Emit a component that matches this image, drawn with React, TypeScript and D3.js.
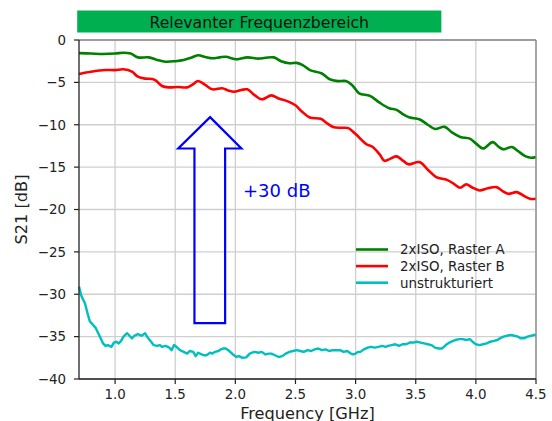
import React from "react";
import * as d3 from "d3";

// S21 measurements, [frequency GHz, dB]
const rasterA: [number, number][] = [
  [0.7, -1.55], [0.8, -1.6], [0.9, -1.65], [1.0, -1.6], [1.07, -1.5], [1.13, -1.6],
  [1.19, -2.05], [1.28, -2.05], [1.35, -2.35], [1.42, -2.56], [1.5, -2.5], [1.57, -2.36],
  [1.63, -2.1], [1.69, -1.8], [1.75, -2.0], [1.81, -2.16], [1.87, -2.05], [1.92, -1.97],
  [2.01, -2.28], [2.1, -2.05], [2.19, -2.2], [2.25, -2.1], [2.32, -2.05], [2.38, -2.5],
  [2.45, -2.75], [2.51, -2.7], [2.56, -2.96], [2.62, -3.55], [2.72, -3.95], [2.78, -4.6],
  [2.85, -4.85], [2.92, -4.85], [2.97, -5.3], [3.03, -6.3], [3.12, -6.6], [3.2, -7.4],
  [3.28, -8.05], [3.34, -8.25], [3.4, -8.8], [3.45, -9.15], [3.53, -9.35], [3.6, -10.0],
  [3.66, -10.5], [3.74, -10.25], [3.8, -10.9], [3.87, -11.44], [3.95, -11.64], [4.0, -12.2],
  [4.06, -12.8], [4.14, -12.05], [4.19, -12.6], [4.23, -12.9], [4.3, -12.62], [4.35, -13.1],
  [4.41, -13.7], [4.46, -13.9], [4.5, -13.8],
];

const rasterB: [number, number][] = [
  [0.7, -4.0], [0.8, -3.74], [0.92, -3.54], [1.0, -3.55], [1.07, -3.46], [1.14, -3.74],
  [1.19, -4.33], [1.25, -4.56], [1.31, -4.6], [1.34, -4.8], [1.39, -5.43], [1.45, -5.59],
  [1.52, -5.55], [1.6, -5.59], [1.65, -5.2], [1.69, -4.84], [1.75, -5.3], [1.81, -5.82],
  [1.89, -5.7], [1.94, -5.95], [1.99, -6.1], [2.05, -5.9], [2.1, -5.82], [2.16, -6.5],
  [2.22, -7.0], [2.3, -6.53], [2.36, -6.9], [2.42, -7.15], [2.5, -7.7], [2.55, -8.4],
  [2.62, -9.15], [2.71, -9.3], [2.77, -9.9], [2.82, -10.3], [2.89, -10.35], [2.94, -10.4],
  [3.0, -11.1], [3.09, -12.3], [3.14, -12.6], [3.2, -13.5], [3.24, -14.25], [3.29, -14.0],
  [3.34, -13.73], [3.4, -14.3], [3.44, -14.67], [3.53, -14.4], [3.6, -15.3], [3.67, -16.17],
  [3.76, -16.5], [3.82, -17.0], [3.87, -17.44], [3.92, -17.04], [3.97, -17.4], [4.03, -17.75],
  [4.1, -17.5], [4.17, -17.36], [4.22, -17.8], [4.27, -18.15], [4.34, -17.95], [4.4, -18.4],
  [4.45, -18.74], [4.5, -18.74],
];

const unstrukturiert: [number, number][] = [
  [0.7, -29.1], [0.72, -30.2], [0.75, -31.1], [0.77, -32.2], [0.79, -33.2], [0.81, -33.5],
  [0.84, -34.0], [0.86, -34.6], [0.88, -35.2], [0.9, -35.8], [0.92, -36.1], [0.94, -36.0],
  [0.97, -36.2], [0.99, -35.7], [1.01, -35.6], [1.03, -35.8], [1.05, -35.5], [1.07, -35.0],
  [1.1, -34.6], [1.12, -34.9], [1.14, -35.2], [1.16, -34.9], [1.19, -34.7], [1.22, -34.9],
  [1.25, -34.6], [1.27, -35.1], [1.3, -35.6], [1.32, -36.0], [1.35, -36.1], [1.37, -36.0],
  [1.39, -36.2], [1.42, -36.1], [1.45, -36.3], [1.47, -36.6], [1.49, -36.0], [1.51, -36.2],
  [1.54, -36.6], [1.57, -36.8], [1.6, -37.0], [1.62, -36.7], [1.65, -36.8], [1.67, -37.3],
  [1.69, -36.9], [1.72, -37.1], [1.74, -37.2], [1.76, -37.2], [1.79, -36.9], [1.81, -37.0],
  [1.83, -36.8], [1.86, -36.7], [1.88, -36.5], [1.9, -36.4], [1.92, -36.4], [1.95, -36.7],
  [1.98, -37.1], [2.01, -37.4], [2.03, -37.3], [2.06, -37.5], [2.09, -37.45], [2.12, -37.0],
  [2.14, -36.9], [2.16, -36.8], [2.19, -36.9], [2.22, -36.8], [2.25, -37.1], [2.28, -37.0],
  [2.3, -37.0], [2.33, -37.2], [2.36, -37.4], [2.39, -37.3], [2.42, -37.0], [2.45, -36.8],
  [2.48, -36.7], [2.51, -36.6], [2.54, -36.7], [2.57, -36.8], [2.6, -36.6], [2.63, -36.7],
  [2.66, -36.5], [2.69, -36.4], [2.72, -36.6], [2.75, -36.5], [2.78, -36.7], [2.81, -36.6],
  [2.84, -36.6], [2.87, -36.6], [2.9, -36.8], [2.93, -36.7], [2.96, -37.0], [2.98, -37.1],
  [3.0, -37.0], [3.02, -36.8], [3.04, -36.8], [3.07, -36.5], [3.1, -36.3], [3.13, -36.2],
  [3.16, -36.3], [3.19, -36.2], [3.22, -36.1], [3.25, -36.2], [3.27, -36.1], [3.3, -36.0],
  [3.33, -35.9], [3.36, -36.1], [3.39, -35.9], [3.42, -35.9], [3.45, -35.7], [3.48, -35.7],
  [3.51, -35.6], [3.54, -35.7], [3.57, -35.8], [3.6, -35.9], [3.63, -36.0], [3.66, -36.3],
  [3.69, -36.4], [3.72, -36.4], [3.75, -36.0], [3.78, -35.7], [3.81, -35.5], [3.83, -35.4],
  [3.86, -35.3], [3.89, -35.3], [3.92, -35.4], [3.95, -35.3], [3.98, -35.7], [4.0, -35.9],
  [4.03, -36.0], [4.06, -35.9], [4.09, -35.8], [4.12, -35.6], [4.15, -35.5], [4.18, -35.4],
  [4.2, -35.2], [4.23, -35.0], [4.26, -34.9], [4.29, -34.8], [4.32, -34.9], [4.35, -35.0],
  [4.37, -35.2], [4.4, -35.2], [4.43, -35.0], [4.46, -34.9], [4.48, -34.8], [4.5, -34.8],
];

const xTicks = [1.0, 1.5, 2.0, 2.5, 3.0, 3.5, 4.0, 4.5];
const yTicks = [0, -5, -10, -15, -20, -25, -30, -35, -40];

const seriesNames = ["2xISO, Raster A", "2xISO, Raster B", "unstrukturiert"];
const seriesColors = ["#008000", "#ff0000", "#00bfbf"];

// arrow annotation in data units (GHz, dB)
const arrowTip: [number, number] = [1.79, -9.1];
const arrowHead = { left: 1.525, right: 2.05, base: -12.8 };
const arrowShaft = { left: 1.66, right: 1.915, bottom: -33.4 };
const bandRange = [0.685, 3.713];

const font = "DejaVu Sans, sans-serif";

export default function App() {
  const width = 552;
  const height = 421;
  const margin = { top: 40, right: 16, bottom: 42, left: 79 };
  const x = d3.scaleLinear().domain([0.7, 4.5]).range([margin.left, width - margin.right]);
  const y = d3.scaleLinear().domain([0, -40]).range([margin.top, height - margin.bottom]);

  const smooth = d3
    .line<[number, number]>()
    .x((d) => x(d[0]))
    .y((d) => y(d[1]))
    .curve(d3.curveCatmullRom.alpha(0.5));
  const rough = d3
    .line<[number, number]>()
    .x((d) => x(d[0]))
    .y((d) => y(d[1]));

  const [x0, x1] = x.range();
  const [y0, y1] = y.range();

  const arrowPts: [number, number][] = [
    [x(arrowShaft.left), y(arrowShaft.bottom)],
    [x(arrowShaft.left), y(arrowHead.base)],
    [x(arrowHead.left), y(arrowHead.base)],
    [x(arrowTip[0]), y(arrowTip[1])],
    [x(arrowHead.right), y(arrowHead.base)],
    [x(arrowShaft.right), y(arrowHead.base)],
    [x(arrowShaft.right), y(arrowShaft.bottom)],
  ];

  return (
    <svg
      width={width}
      height={height}
      style={{ position: "absolute", left: 0, top: 0, background: "#fff" }}
      fontFamily={font}
    >
      {/* band header */}
      <rect x={x(bandRange[0])} y={10.5} width={x(bandRange[1]) - x(bandRange[0])} height={22} fill="#00b050" />
      <text x={(x(bandRange[0]) + x(bandRange[1])) / 2} y={28.2} textAnchor="middle" fontSize={15.7} fill="#111">
        Relevanter Frequenzbereich
      </text>

      {/* grid */}
      {xTicks.map((t) => (
        <line key={"gx" + t} x1={x(t)} x2={x(t)} y1={y0} y2={y1} stroke="#cfcfcf" strokeWidth={1.3} />
      ))}
      {yTicks.map((t) => (
        <line key={"gy" + t} x1={x0} x2={x1} y1={y(t)} y2={y(t)} stroke="#cfcfcf" strokeWidth={1.3} />
      ))}

      {/* curves */}
      <path d={smooth(rasterA) ?? ""} fill="none" stroke={seriesColors[0]} strokeWidth={2.6} />
      <path d={smooth(rasterB) ?? ""} fill="none" stroke={seriesColors[1]} strokeWidth={2.6} />
      <path d={rough(unstrukturiert) ?? ""} fill="none" stroke={seriesColors[2]} strokeWidth={2.4} strokeLinejoin="round" />

      {/* arrow */}
      <path d={(d3.line()(arrowPts) ?? "") + "Z"} fill="none" stroke="#0000ff" strokeWidth={2.2} strokeLinejoin="miter" />
      <text x={243} y={196.5} fontSize={18} fill="#0000ff">
        +30 dB
      </text>

      {/* legend */}
      {seriesNames.map((name, i) => (
        <g key={name} transform={`translate(356, ${249.5 + i * 16.6})`}>
          <line x1={0} x2={32} y1={0} y2={0} stroke={seriesColors[i]} strokeWidth={2.6} />
          <text x={44} y={0} dy="0.36em" fontSize={13.4} fill="#222">
            {name}
          </text>
        </g>
      ))}

      {/* frame */}
      <line x1={x0} x2={x1} y1={y0} y2={y0} stroke="#888" strokeWidth={1.3} />
      <line x1={x1} x2={x1} y1={y0} y2={y1} stroke="#888" strokeWidth={1.3} />
      <line x1={x0} x2={x0} y1={y0} y2={y1} stroke="#222" strokeWidth={1.3} />
      <line x1={x0} x2={x1} y1={y1} y2={y1} stroke="#222" strokeWidth={1.3} />

      {/* ticks */}
      {xTicks.map((t) => (
        <g key={"tx" + t}>
          <line x1={x(t)} x2={x(t)} y1={y1} y2={y1 + 5} stroke="#222" strokeWidth={1.2} />
          <text x={x(t)} y={y1 + 20} textAnchor="middle" fontSize={13.4} fill="#222">
            {d3.format(".1f")(t)}
          </text>
        </g>
      ))}
      {yTicks.map((t) => (
        <g key={"ty" + t}>
          <line x1={x0 - 5} x2={x0} y1={y(t)} y2={y(t)} stroke="#222" strokeWidth={1.2} />
          <text x={x0 - 13} y={y(t)} dy="0.36em" textAnchor="end" fontSize={13.4} fill="#222">
            {t < 0 ? "\u2212" + Math.abs(t) : String(t)}
          </text>
        </g>
      ))}

      {/* axis labels */}
      <text x={(x0 + x1) / 2} y={419} textAnchor="middle" fontSize={16.2} fill="#222">
        Frequency [GHz]
      </text>
      <text
        transform={`translate(27, ${(y0 + y1) / 2}) rotate(-90)`}
        textAnchor="middle"
        fontSize={16.2}
        fill="#222"
      >
        S21 [dB]
      </text>
    </svg>
  );
}
